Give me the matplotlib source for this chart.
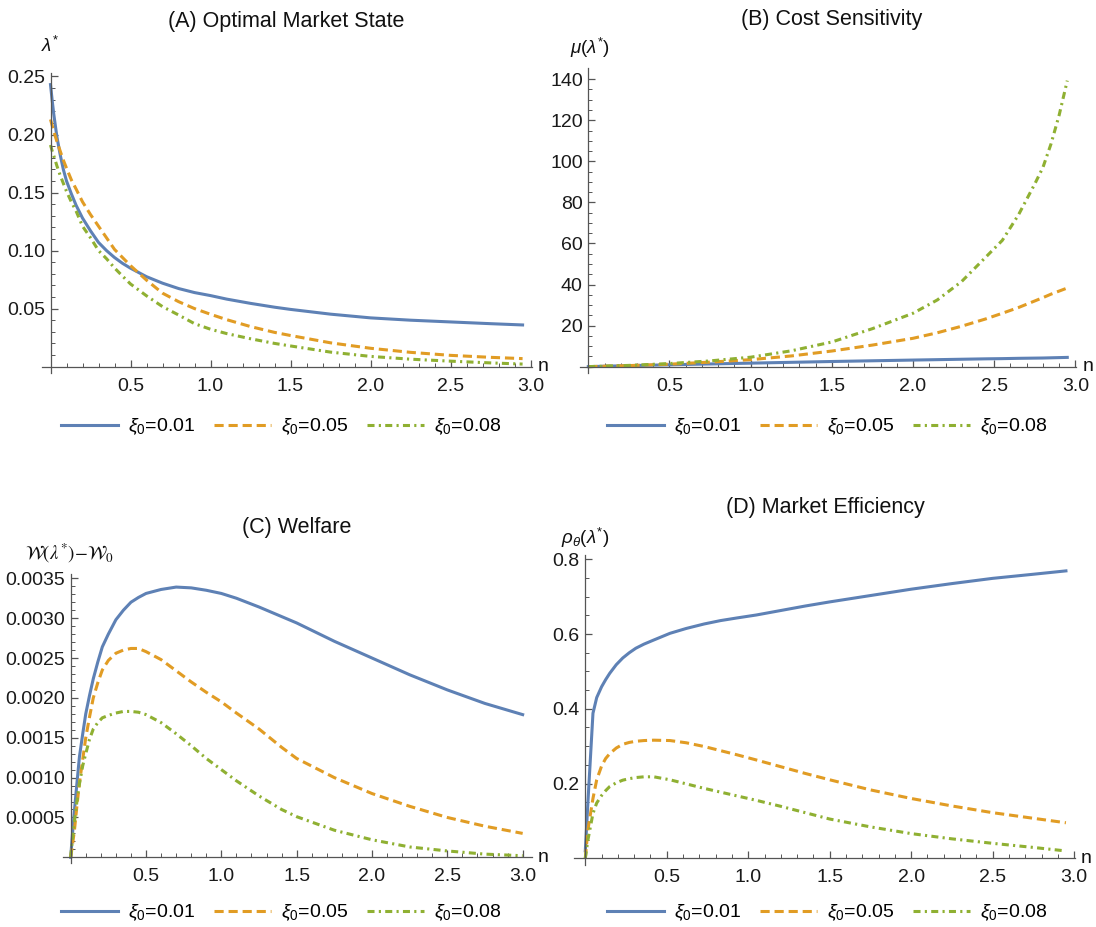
import numpy as np
import matplotlib
matplotlib.use("Agg")
import matplotlib.pyplot as plt
from matplotlib.ticker import FixedLocator, FormatStrFormatter

plt.rcParams['font.family'] = ['Liberation Sans', 'DejaVu Sans']
plt.rcParams['mathtext.fontset'] = 'custom'
plt.rcParams['mathtext.rm'] = 'Liberation Sans'
plt.rcParams['mathtext.it'] = 'Liberation Sans:italic'
plt.rcParams['mathtext.bf'] = 'Liberation Sans:bold'

# --- data ---
labels = [r'$\xi_0$=0.01', r'$\xi_0$=0.05', r'$\xi_0$=0.08']
colors = ['#5E81B5', '#E19C24', '#8FB032']
styles = ['-', (0, (3.0, 1.6)), (0, (2.3, 1.4, 0.7, 1.4))]

# (A) optimal market state
xa = [0, 0.01, 0.02, 0.04, 0.06, 0.08, 0.1, 0.13, 0.16, 0.2, 0.25, 0.3, 0.35, 0.4,
      0.45, 0.5, 0.6, 0.7, 0.8, 0.9, 1.0, 1.1, 1.25, 1.4, 1.5, 1.75, 2.0, 2.25,
      2.5, 2.75, 2.95]
a_001 = [0.243, 0.230, 0.218, 0.198, 0.183, 0.170, 0.160, 0.149, 0.139, 0.128,
         0.117, 0.107, 0.100, 0.094, 0.089, 0.0848, 0.0775, 0.0719, 0.0673, 0.0638,
         0.0612, 0.0582, 0.0545, 0.0512, 0.0493, 0.0452, 0.0420, 0.0400, 0.0385,
         0.0370, 0.0359]
a_005 = [0.213, 0.208, 0.203, 0.194, 0.186, 0.178, 0.171, 0.161, 0.153, 0.142,
         0.131, 0.121, 0.111, 0.101, 0.094, 0.087, 0.0745, 0.0633, 0.0560, 0.0500,
         0.0451, 0.0405, 0.0345, 0.0295, 0.0268, 0.0205, 0.0158, 0.0123, 0.0097,
         0.0080, 0.0069]
a_008 = [0.191, 0.186, 0.182, 0.173, 0.165, 0.158, 0.151, 0.142, 0.134, 0.121,
         0.111, 0.100, 0.093, 0.085, 0.078, 0.0712, 0.0610, 0.0517, 0.0445, 0.0370,
         0.0322, 0.0285, 0.0240, 0.0200, 0.0178, 0.0125, 0.0088, 0.0064, 0.0047,
         0.0032, 0.0022]

# (B) cost sensitivity
xb = [0, 0.25, 0.5, 0.75, 1.0, 1.25, 1.5, 1.75, 2.0, 2.15, 2.3, 2.45, 2.55, 2.65,
      2.75, 2.8, 2.85, 2.9, 2.95]
b_001 = [0, 0.5, 0.9, 1.3, 1.7, 2.1, 2.5, 2.85, 3.2, 3.4, 3.6, 3.8, 3.9, 4.05,
         4.15, 4.2, 4.3, 4.4, 4.5]
b_005 = [0, 0.5, 1.2, 2.2, 3.4, 5.2, 7.6, 10.5, 13.8, 16.5, 19.7, 23.3, 26.0, 28.8,
         32.0, 33.6, 35.3, 36.8, 38.3]
b_008 = [0, 0.6, 1.5, 2.8, 4.6, 7.7, 12.0, 18.5, 26.0, 32.5, 41.5, 53.5, 61.5, 74.0,
         89.0, 97.0, 108.5, 122.5, 139.3]

# (C) welfare
xc = [0, 0.01, 0.025, 0.04, 0.058, 0.08, 0.1, 0.125, 0.15, 0.18, 0.21, 0.25, 0.3,
      0.35, 0.4, 0.45, 0.5, 0.6, 0.7, 0.8, 0.9, 1.0, 1.1, 1.25, 1.4, 1.5, 1.75,
      2.0, 2.25, 2.5, 2.75, 3.0]
c_001 = [0, 0.00025, 0.00059, 0.0009, 0.00126, 0.00155, 0.0018, 0.00203, 0.00224,
         0.00245, 0.00264, 0.0028, 0.00298, 0.0031, 0.0032, 0.00326, 0.00331,
         0.00336, 0.00339, 0.00338, 0.00335, 0.00331, 0.00325, 0.00314, 0.00302,
         0.00294, 0.00271, 0.0025, 0.00229, 0.0021, 0.00193, 0.00179]
c_005 = [0, 0.00013, 0.00034, 0.00062, 0.00093, 0.00123, 0.0015, 0.00176, 0.002,
         0.00219, 0.00235, 0.00247, 0.00256, 0.0026, 0.00262, 0.00262, 0.00258,
         0.00248, 0.00234, 0.0022, 0.00207, 0.00195, 0.00181, 0.00161, 0.00138,
         0.00124, 0.001, 0.0008, 0.00064, 0.0005, 0.00039, 0.0003]
c_008 = [0, 0.0002, 0.00045, 0.00068, 0.00092, 0.00115, 0.0013, 0.00148, 0.00161,
         0.00169, 0.00175, 0.00178, 0.00181, 0.00183, 0.00183, 0.00182, 0.00179,
         0.00169, 0.00155, 0.0014, 0.00124, 0.0011, 0.00096, 0.00077, 0.0006,
         0.00051, 0.00034, 0.00022, 0.00013, 0.00008, 0.00004, 0.00002]

# (D) market efficiency
xd = [0, 0.016, 0.047, 0.07, 0.1, 0.125, 0.15, 0.19, 0.23, 0.27, 0.31, 0.36, 0.42,
      0.52, 0.62, 0.73, 0.83, 0.93, 1.05, 1.2, 1.35, 1.5, 1.75, 2.0, 2.25, 2.5,
      2.75, 2.95]
d_001 = [0.02, 0.15, 0.388, 0.43, 0.459, 0.478, 0.495, 0.518, 0.536, 0.55, 0.562,
         0.573, 0.584, 0.602, 0.615, 0.627, 0.636, 0.643, 0.651, 0.663, 0.675,
         0.686, 0.703, 0.72, 0.735, 0.749, 0.76, 0.769]
d_005 = [0, 0.076, 0.16, 0.21, 0.247, 0.267, 0.28, 0.295, 0.305, 0.31, 0.313,
         0.315, 0.316, 0.315, 0.309, 0.299, 0.288, 0.277, 0.263, 0.245, 0.227,
         0.21, 0.183, 0.16, 0.14, 0.122, 0.107, 0.095]
d_008 = [0, 0.049, 0.12, 0.148, 0.168, 0.181, 0.192, 0.202, 0.209, 0.213, 0.216,
         0.218, 0.218, 0.21, 0.199, 0.187, 0.177, 0.167, 0.155, 0.139, 0.122,
         0.105, 0.084, 0.066, 0.052, 0.04, 0.029, 0.0196]

xticks = [0.5, 1.0, 1.5, 2.0, 2.5, 3.0]
xminor = [v / 10 for v in range(1, 31) if v % 5 != 0]

W, H = 1096, 927
fig = plt.figure(figsize=(W / 100, H / 100), dpi=100)


def px_axes(left, bottom, width, height):
    return fig.add_axes([left / W, 1 - bottom / H, width / W, height / H])


def fpos(x, y):
    return x / W, 1 - y / H


def panel(rect, xs, series, xlim, ylim, yticks, yminor, yfmt,
          title, title_xy, ylabel, ylabel_xy, leg_xy, math_font=None):
    ax = px_axes(*rect)
    for ys, c, ls, lab in zip(series, colors, styles, labels):
        ax.plot(xs, ys, color=c, linestyle=ls, lw=2.2, label=lab,
                solid_joinstyle='round', dash_joinstyle='round')
    ax.set_xlim(*xlim)
    ax.set_ylim(*ylim)
    for s in ['top', 'right']:
        ax.spines[s].set_visible(False)
    ax.spines['left'].set_position(('data', 0))
    ax.spines['bottom'].set_position(('data', 0))
    for s in ['left', 'bottom']:
        ax.spines[s].set_color('#555555')
        ax.spines[s].set_linewidth(0.9)
    ax.xaxis.set_major_locator(FixedLocator(xticks))
    ax.xaxis.set_minor_locator(FixedLocator(xminor))
    ax.xaxis.set_major_formatter(FormatStrFormatter('%.1f'))
    ax.yaxis.set_major_locator(FixedLocator(yticks))
    ax.yaxis.set_minor_locator(FixedLocator(yminor))
    ax.yaxis.set_major_formatter(FormatStrFormatter(yfmt))
    ax.tick_params(which='both', direction='in', color='#555555', labelcolor='#1a1a1a',
                   labelsize=14)
    ax.tick_params(which='major', length=5, width=0.9)
    ax.tick_params(which='minor', length=3, width=0.7)
    ax.tick_params(axis='x', pad=8)
    ax.tick_params(axis='y', pad=4)
    ax.patch.set_visible(False)

    fig.text(*fpos(*title_xy), title, ha='center', va='center', fontsize=15.5,
             color='#111111')
    kw = {}
    if math_font:
        kw['math_fontfamily'] = math_font
    fig.text(*fpos(*ylabel_xy), ylabel, ha='center', va='center', fontsize=13.5,
             color='#111111', **kw)
    ax_right = rect[0] + rect[2]
    ax_y = rect[1] - (0 - ylim[0]) / (ylim[1] - ylim[0]) * rect[3]
    fig.text(*fpos(ax_right + 6, ax_y), 'n', ha='left', va='center', fontsize=14,
             color='#111111')
    fig.legend(*ax.get_legend_handles_labels(), loc='center',
               bbox_to_anchor=fpos(*leg_xy), ncol=3, frameon=False, fontsize=14,
               handlelength=2.95, handletextpad=0.5, columnspacing=0.95)
    return ax


panel((41.7, 373, 490, 300), xa, [a_001, a_005, a_008], (-0.055, 3.007),
      (-0.0055, 0.253), [0.05, 0.10, 0.15, 0.20, 0.25],
      [v / 100 for v in range(1, 26) if v % 5 != 0], '%.2f',
      '(A) Optimal Market State', (286, 22), r'$\lambda^{*}$', (50, 46), (281, 427))

panel((580.2, 373, 496, 304.7), xb, [b_001, b_005, b_008], (-0.05, 3.005),
      (-3.1, 145.3), [20, 40, 60, 80, 100, 120, 140],
      [v for v in range(5, 145, 5) if v % 20 != 0], '%d',
      '(B) Cost Sensitivity', (832, 20), r'$\mu(\lambda^{*})$', (590, 48), (827, 427))

panel((62.7, 863.3, 469, 289.3), xc, [c_001, c_005, c_008], (-0.053, 3.06),
      (-0.000075, 0.003554), [0.0005, 0.0010, 0.0015, 0.0020, 0.0025, 0.0030, 0.0035],
      [v / 10000 for v in range(1, 36) if v % 5 != 0], '%.4f',
      '(C) Welfare', (297, 527), r'$\mathcal{W}(\lambda^{*})\!-\!\mathcal{W}_0$',
      (70, 553), (281, 913), math_font='stix')

panel((573.9, 865, 501, 310), xd, [d_001, d_005, d_008], (-0.07, 3.005),
      (-0.018, 0.8115), [0.2, 0.4, 0.6, 0.8],
      [v / 100 for v in range(5, 81, 5) if v % 20 != 0], '%.1f',
      '(D) Market Efficiency', (825, 507), r'$\rho_\theta(\lambda^{*})$', (585, 538),
      (827, 913))

fig.savefig('out.png', dpi=100)
